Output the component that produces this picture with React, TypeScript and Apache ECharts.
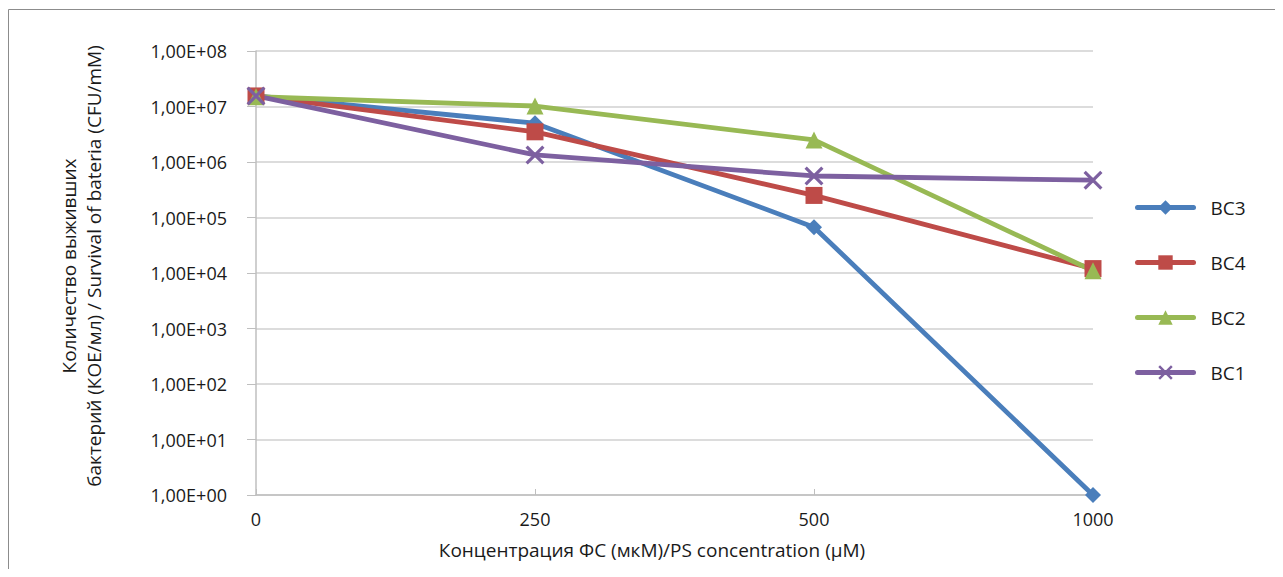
import React, { useEffect, useRef } from "react";
import * as echarts from "echarts";

const categories = ["0", "250", "500", "1000"];
const bc3 = [1.55e7, 5.0e6, 6.7e4, 1];
const bc4 = [1.55e7, 3.5e6, 2.5e5, 1.2e4];
const bc2 = [1.5e7, 1.02e7, 2.5e6, 1.1e4];
const bc1 = [1.55e7, 1.34e6, 5.6e5, 4.7e5];
const seriesNames = ["BC3", "BC4", "BC2", "BC1"];
const yTitle = "Количество выживших\nбактерий (КОЕ/мл) / Survival of bateria (CFU/mM)";
const xTitle = "Концентрация ФС (мкМ)/PS concentration (µM)";

const FONT = "'Open Sans', sans-serif";
const X_SYMBOL =
  "path://M0,1.2L1.2,0L10,8.8L8.8,10ZM8.8,0L10,1.2L1.2,10L0,8.8Z";

export default function App() {
  const ref = useRef<HTMLDivElement>(null);
  useEffect(() => {
    if (!ref.current) return;
    const chart = echarts.init(ref.current, null, { renderer: "svg" });
    const mk = (
      name: string,
      data: number[],
      color: string,
      symbol: string,
      size: number
    ) => ({
      name,
      type: "line",
      data,
      symbol,
      symbolSize: size,
      showAllSymbol: true,
      lineStyle: { color, width: 4.8 },
      itemStyle: { color },
      z: 3,
    });
    chart.setOption({
      animation: false,
      backgroundColor: "#ffffff",
      textStyle: { fontFamily: FONT },
      grid: { left: 256, right: 190, top: 51, bottom: 82, containLabel: false },
      graphic: [
        {
          type: "rect",
          shape: { x: 8.5, y: 9.5, width: 1272, height: 620 },
          style: { fill: "none", stroke: "#8c8c8c", lineWidth: 1 },
          silent: true,
        },
        {
          type: "text",
          x: 81,
          y: 266,
          rotation: Math.PI / 2,
          style: {
            text: yTitle,
            fontFamily: FONT,
            fontSize: 19,
            lineHeight: 25,
            fill: "#1a1a1a",
            align: "center",
            verticalAlign: "middle",
          },
        },
        {
          type: "text",
          x: 652,
          y: 550,
          style: {
            text: xTitle,
            fontFamily: FONT,
            fontSize: 19,
            fill: "#1a1a1a",
            align: "center",
            verticalAlign: "middle",
          },
        },
      ],
      legend: {
        orient: "vertical",
        left: 1130,
        top: 193,
        itemWidth: 56,
        itemHeight: 18,
        itemGap: 36,
        data: seriesNames,
        lineStyle: { width: 5, cap: "round" },
        textStyle: {
          fontFamily: FONT,
          fontSize: 19,
          color: "#1a1a1a",
          padding: [0, 0, 0, 12],
        },
      },
      xAxis: {
        type: "category",
        data: categories,
        boundaryGap: false,
        axisLine: { lineStyle: { color: "#bfbfbf", width: 1.5 } },
        axisTick: { show: true, inside: true, length: 6, lineStyle: { color: "#bfbfbf" } },
        axisLabel: { fontFamily: FONT, fontSize: 18, color: "#1a1a1a", margin: 15 },
        splitLine: { show: false },
      },
      yAxis: {
        type: "log",
        logBase: 10,
        min: 1,
        max: 1e8,
        splitNumber: 8,
        axisLine: { show: true, lineStyle: { color: "#bfbfbf", width: 1.5 } },
        axisTick: { show: true, length: 9, lineStyle: { color: "#bfbfbf" } },
        axisLabel: {
          fontFamily: FONT,
          fontSize: 18,
          color: "#1a1a1a",
          margin: 29,
          formatter: (v: number) => {
            const e = Math.round(Math.log10(v));
            return "1,00E+" + String(e).padStart(2, "0");
          },
        },
        splitLine: { show: true, lineStyle: { color: "#d0d0d0", width: 1.5 } },
        minorTick: { show: false },
      },
      series: [
        mk("BC3", bc3, "#4a7ebb", "diamond", 16),
        mk("BC4", bc4, "#be4b48", "rect", 17),
        mk("BC2", bc2, "#98b954", "triangle", 17),
        mk("BC1", bc1, "#7d60a0", X_SYMBOL, 19),
      ],
    });
    return () => chart.dispose();
  }, []);
  return <div ref={ref} style={{ width: 1283, height: 577, margin: -8 }} />;
}
